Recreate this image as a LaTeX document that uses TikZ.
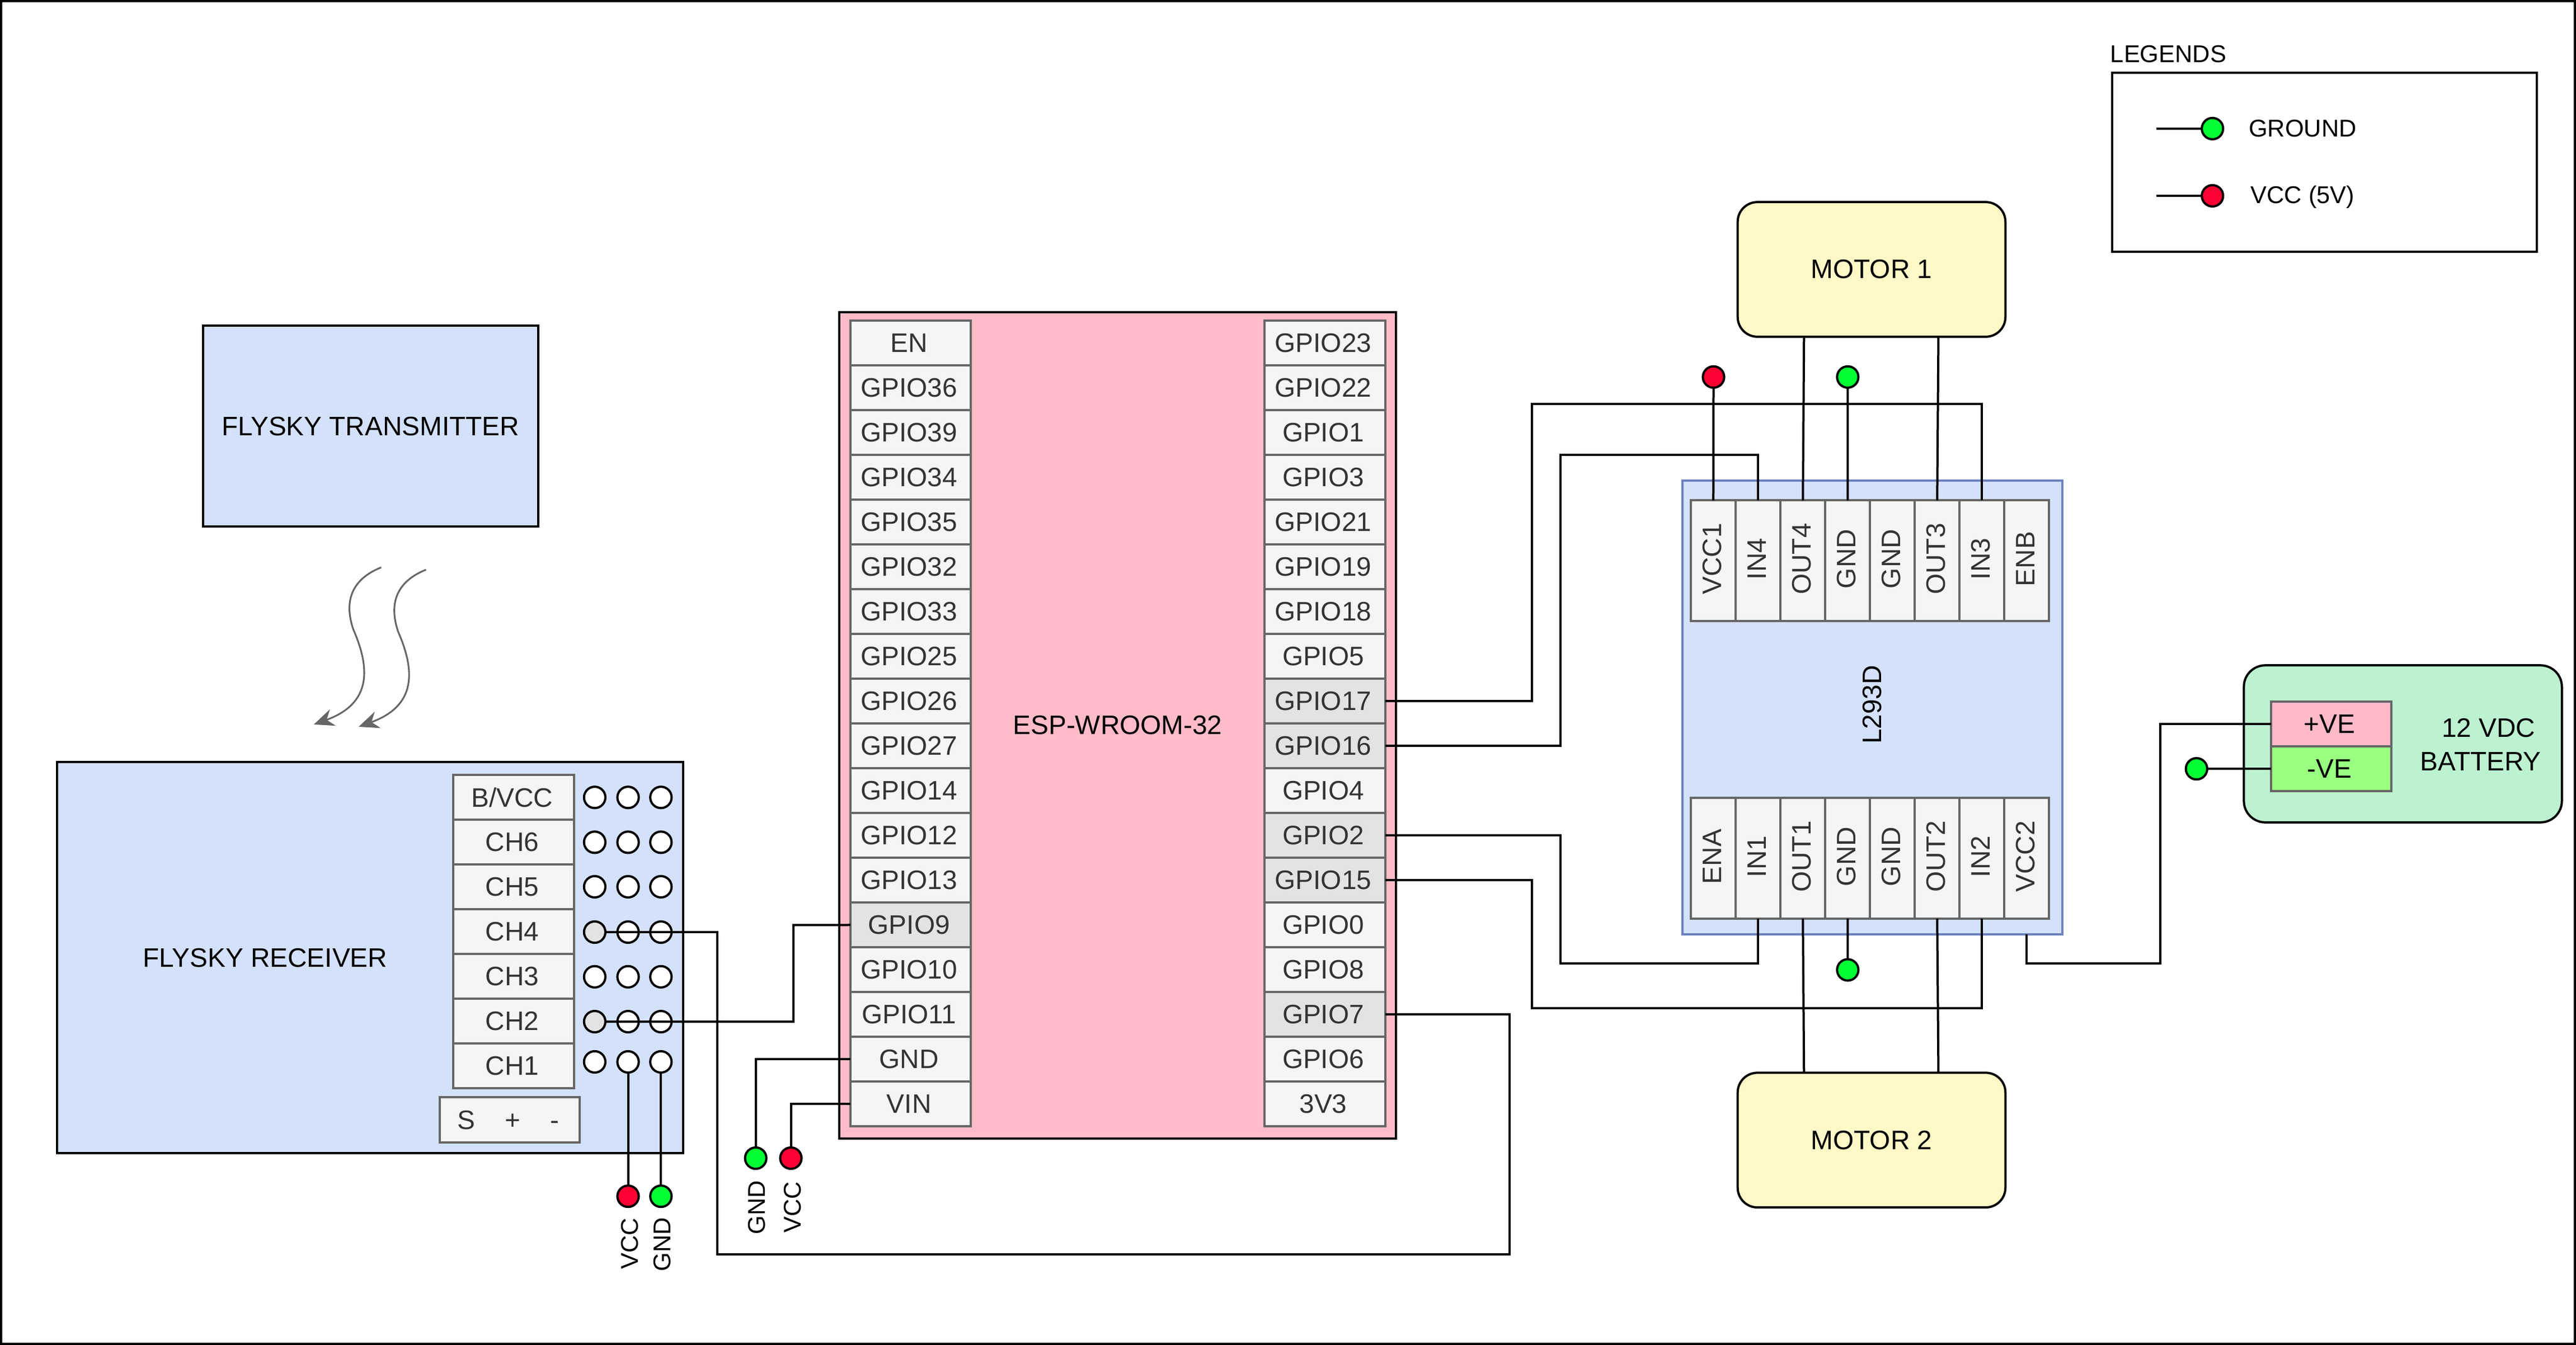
\documentclass[tikz,border=0pt]{standalone}
\usepackage{fontspec}
\setmainfont{Liberation Sans}
\usetikzlibrary{arrows.meta}
\definecolor{boardblue}{HTML}{D4E1FB}
\definecolor{boardedge}{HTML}{6C82BF}
\definecolor{motorfill}{HTML}{FFF9C8}
\definecolor{espfill}{HTML}{FFBCC8}
\definecolor{batfill}{HTML}{BCF2D0}
\definecolor{posfill}{HTML}{FFB9C8}
\definecolor{negfill}{HTML}{99FF80}
\definecolor{pinbase}{HTML}{F5F5F5}
\definecolor{pinhot}{HTML}{E3E3E3}
\definecolor{pinedge}{HTML}{666666}
\definecolor{pintext}{HTML}{333333}
\definecolor{vccred}{HTML}{FF0033}
\definecolor{gndgreen}{HTML}{00FF33}
\tikzset{
	every node/.style={inner sep=0pt,outer sep=0pt,font=\fontsize{9.25}{11.7}\selectfont},
	board/.style={draw=black,line width=0.775pt,fill=boardblue},
	motorbox/.style={draw=black,line width=0.775pt,fill=motorfill,rounded corners=0.24cm,minimum width=3.26cm,minimum height=1.64cm},
	pinbox/.style={draw=pinedge,line width=0.775pt,fill=pinbase,text=pintext,minimum width=1.468cm,minimum height=0.545cm,execute at end node=\hspace{1.1pt}},
	pinup/.style={draw=pinedge,line width=0.775pt,fill=pinbase,text=pintext,minimum width=0.545cm,minimum height=1.468cm,execute at end node=\hspace{0.8pt}},
	hole/.style={circle,draw=black,line width=0.775pt,fill=white,minimum size=0.26cm},
	vccdot/.style={circle,draw=black,line width=0.775pt,fill=vccred,minimum size=0.26cm},
	gnddot/.style={circle,draw=black,line width=0.775pt,fill=gndgreen,minimum size=0.26cm},
	tinytext/.style={font=\fontsize{8.4}{10}\selectfont},
	wire/.style={draw=black,line width=0.775pt},
	waveline/.style={draw=pinedge,line width=0.6pt,-{Stealth[length=7pt,width=6pt]}}
}
\begin{document}
\begin{tikzpicture}[x=0.02cm,y=-0.02cm,line join=miter]
	\useasboundingbox (0,0) rectangle (1568,818.73);
	\draw[line width=0.775pt] (0.7,0.7) rectangle (1567.3,818);

	\node[board,minimum width=4.08cm,minimum height=2.446cm] (tx) at (225.5,259.5) {FLYSKY TRANSMITTER};
	\node[board,minimum width=7.626cm,minimum height=4.76cm] (rx) at (225.3,583) {};
	\node (rxlabel) at (161.4,583) {FLYSKY RECEIVER};
	\foreach \lab [count=\i from 0] in {B/VCC,CH6,CH5,CH4,CH3,CH2,CH1}
		\node[pinbox] (rx\i) at (312.7,{485.4+27.25*\i}) {\lab};
	\node[pinbox,minimum width=1.708cm,minimum height=0.552cm] (servo) at (310.3,681.8) {S\hspace{10.3pt}+\hspace{10.3pt}-};
	\foreach \row/\yy/\tint in {1/485.4/white,2/512.7/white,3/539.8/white,4/567.4/pinhot,5/594.6/white,6/621.9/pinhot,7/646.4/white}{
		\node[hole,fill=\tint] (h\row a) at (362,\yy) {};
		\node[hole] (h\row b) at (382.3,\yy) {};
		\node[hole] (h\row c) at (402.3,\yy) {};
	}

	\node[draw=black,line width=0.775pt,fill=espfill,minimum width=6.776cm,minimum height=10.06cm] (esp) at (680.3,441.5) {ESP-WROOM-32\hspace{0.8pt}};
	\foreach \lab/\tint [count=\i from 0] in {EN/pinbase,GPIO36/pinbase,GPIO39/pinbase,GPIO34/pinbase,GPIO35/pinbase,GPIO32/pinbase,
		GPIO33/pinbase,GPIO25/pinbase,GPIO26/pinbase,GPIO27/pinbase,GPIO14/pinbase,GPIO12/pinbase,GPIO13/pinbase,
		GPIO9/pinhot,GPIO10/pinbase,GPIO11/pinbase,GND/pinbase,VIN/pinbase}
		\node[pinbox,fill=\tint] (\lab) at (554.3,{208.8+27.25*\i}) {\lab};
	\foreach \lab/\tint [count=\i from 0] in {GPIO23/pinbase,GPIO22/pinbase,GPIO1/pinbase,GPIO3/pinbase,GPIO21/pinbase,GPIO19/pinbase,
		GPIO18/pinbase,GPIO5/pinbase,GPIO17/pinhot,GPIO16/pinhot,GPIO4/pinbase,GPIO2/pinhot,GPIO15/pinhot,
		GPIO0/pinbase,GPIO8/pinbase,GPIO7/pinhot,GPIO6/pinbase,3V3/pinbase}
		\node[pinbox,fill=\tint] (\lab) at (806.4,{208.8+27.25*\i}) {\lab};

	\node[draw=boardedge,line width=0.775pt,fill=boardblue,minimum width=4.628cm,minimum height=5.53cm] (driver) at (1139.7,430.7) {\rotatebox{90}{\hspace{2pt}L293D}};
	\foreach \lab [count=\i from 0] in {VCC1,IN4,OUT4,GND,GND,OUT3,IN3,ENB}
		\node[pinup] (top\i) at ({1042.9+27.25*\i},341.3) {\rotatebox{90}{\hspace{1.2pt}\lab}};
	\foreach \lab [count=\i from 0] in {ENA,IN1,OUT1,GND,GND,OUT2,IN2,VCC2}
		\node[pinup] (bot\i) at ({1042.9+27.25*\i},522.5) {\rotatebox{90}{\hspace{1.2pt}\lab}};

	\node[motorbox] (motor1) at (1139.2,164) {MOTOR 1};
	\node[motorbox] (motor2) at (1139.2,694) {MOTOR 2};

	\node[draw=black,line width=0.775pt,fill=batfill,rounded corners=0.26cm,minimum width=3.872cm,minimum height=1.912cm] (battery) at (1462.6,452.8) {};
	\node[pinbox,fill=posfill,text=black] (pos) at (1419,440.6) {+VE};
	\node[pinbox,fill=negfill,text=black] (neg) at (1419,468) {-VE};
	\node[align=center] (batlabel) at (1510,453.3) {\hspace*{5.4pt}12 VDC\\BATTERY};

	\node[vccdot] (dota) at (1043,229.5) {};
	\node[gnddot] (dotb) at (1124.7,229.5) {};
	\node[gnddot] (dotc) at (1124.7,590.4) {};
	\node[gnddot] (dotd) at (1337,468) {};
	\node[vccdot] (dote) at (382.3,728.2) {};
	\node[gnddot] (dotf) at (402.3,728.2) {};
	\node[gnddot] (dotg) at (460,705) {};
	\node[vccdot] (doth) at (481.4,705) {};
	\node[tinytext] (lbe) at (383.2,757) {\rotatebox{90}{VCC}};
	\node[tinytext] (lbf) at (403,757.5) {\rotatebox{90}{GND}};
	\node[tinytext] (lbg) at (460.7,735) {\rotatebox{90}{GND}};
	\node[tinytext] (lbh) at (482.3,735) {\rotatebox{90}{VCC}};

	\node[tinytext,anchor=base west] (legtitle) at (1284.6,38) {LEGENDS};
	\node[draw=black,line width=0.775pt,minimum width=5.17cm,minimum height=2.18cm] (legend) at (1414.8,98.8) {};
	\node[gnddot] (leggnd) at (1346.7,78.3) {};
	\node[vccdot] (legvcc) at (1346.7,119.2) {};
	\node[tinytext] (legtxta) at (1401.6,78.3) {GROUND};
	\node[tinytext] (legtxtb) at (1401.6,119.9) {VCC (5V)};
	\coordinate (legstarta) at (1312.7,78.3);
	\coordinate (legstartb) at (1312.7,119.2);
	\draw[wire] (legstarta)--(leggnd.west);
	\draw[wire] (legstartb)--(legvcc.west);

	\coordinate (wavea) at (232,345.4);
	\coordinate (waveam) at (215,383);
	\coordinate (waveaend) at (191,441);
	\coordinate (waveb) at (259.3,346.8);
	\coordinate (wavebm) at (242.3,384.4);
	\coordinate (wavebend) at (218.3,442.4);
	\draw[waveline] (wavea) .. controls (218,351) and (208,362) .. (waveam) .. controls (225,406) and (227,428) .. (waveaend);
	\draw[waveline] (waveb) .. controls (245.3,352.4) and (235.3,363.4) .. (wavebm) .. controls (252.3,407.4) and (254.3,429.4) .. (wavebend);

	\coordinate (gp7low) at (436.7,763.5);
	\coordinate (gp7up) at (919,763.5);
	\coordinate (gp9bend) at (483,563.1);
	\draw[wire] (h4a.east) -| (gp7low) -- (gp7up) |- (GPIO7.east);
	\draw[wire] (h6a.east) -| (gp9bend) -- (GPIO9.west);
	\draw[wire] (h7b.south) -- (dote.north);
	\draw[wire] (h7c.south) -- (dotf.north);
	\draw[wire] (dotg.north) |- (GND.west);
	\draw[wire] (doth.north) |- (VIN.west);

	\coordinate (in3bus) at (932.4,246);
	\coordinate (in4bus) at (949.8,277);
	\coordinate (in1bus) at (949.8,586.5);
	\coordinate (in2bus) at (932.4,613.6);
	\draw[wire] (GPIO17.east) -| (in3bus) -| (top6.north);
	\draw[wire] (GPIO16.east) -| (in4bus) -| (top1.north);
	\draw[wire] (GPIO2.east) -| (in1bus) -| (bot1.south);
	\draw[wire] (GPIO15.east) -| (in2bus) -| (bot6.south);

	\coordinate (m1a) at (1098.1,205);
	\coordinate (m1b) at (1179.9,205);
	\coordinate (m2a) at (1098.1,653.5);
	\coordinate (m2b) at (1179.9,653.5);
	\draw[wire] (top2.north)--(m1a);
	\draw[wire] (top5.north)--(m1b);
	\draw[wire] (bot2.south)--(m2a);
	\draw[wire] (bot5.south)--(m2b);
	\draw[wire] (dota.south)--(top0.north);
	\draw[wire] (dotb.south)--(top3.north);
	\draw[wire] (bot3.south)--(dotc.north);

	\coordinate (batbend) at (1315,586.5);
	\draw[wire] (driver.south -| bot7.south) |- (batbend) |- (pos.west);
	\draw[wire] (dotd.east)--(neg.west);
\end{tikzpicture}
\end{document}
